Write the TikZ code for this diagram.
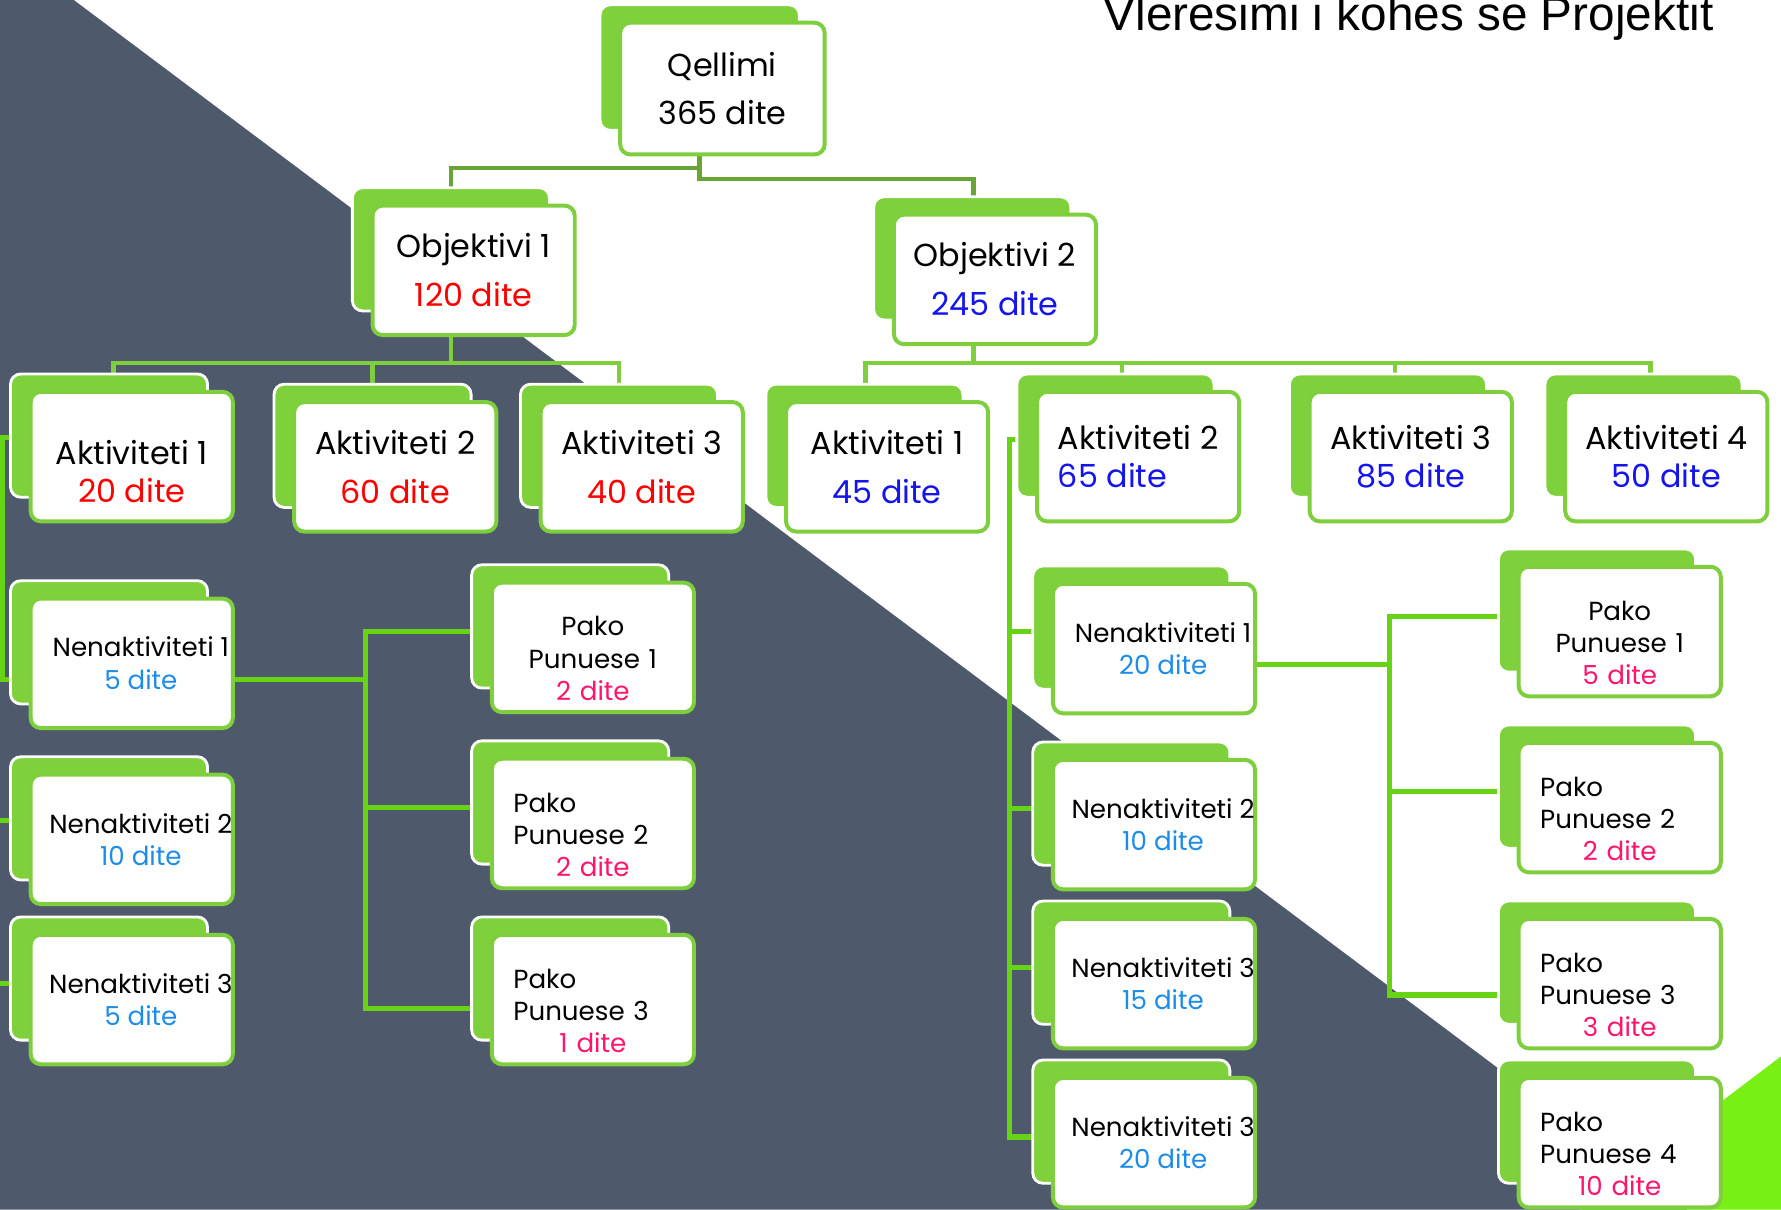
\documentclass[tikz,border=0pt]{standalone}
\usepackage{fontspec}
\setmainfont{Poppins}
\newfontfamily\titlefont{Liberation Sans}
\usepackage{tikz}

\definecolor{slate}{RGB}{78,90,108}
\definecolor{tabgreen}{RGB}{126,209,58}
\definecolor{rimgreen}{RGB}{126,206,62}
\definecolor{stemgreen}{RGB}{104,165,52}
\definecolor{twiggreen}{RGB}{102,212,20}
\definecolor{limegreen}{RGB}{120,240,20}
\definecolor{dayred}{RGB}{255,0,0}
\definecolor{dayblue}{RGB}{20,20,235}
\definecolor{skyblue}{RGB}{30,140,230}
\definecolor{daypink}{RGB}{255,20,110}

\pgfdeclarelayer{backdrop}
\pgfdeclarelayer{links}
\pgfdeclarelayer{tabs}
\pgfsetlayers{backdrop,links,tabs,main}

\newcommand\midtext[1]{\mbox{}\hfill#1\hfill\mbox{}}
\newcommand\padtop[1]{\rule{0pt}{#1}}
\newcommand\nudge{\hspace*{16pt}}

\tikzset{
  card/.style={draw=rimgreen, line width=3.5pt, fill=white, rounded corners=9pt,
    minimum width=178pt, minimum height=114pt, inner sep=0pt, align=center},
  bigcard/.style={card, font=\fontsize{28}{43}\selectfont},
  flatcard/.style={card, font=\fontsize{28}{33}\selectfont},
  smallcard/.style={card, font=\fontsize{23}{28.5}\selectfont},
  tab/.style={fill=tabgreen, draw=white, line width=2.5pt, rounded corners=9pt},
  stem/.style={draw=stemgreen, line width=4pt},
  branch/.style={draw=rimgreen, line width=4pt},
  twig/.style={draw=twiggreen, line width=4.5pt},
}

\begin{document}
\begin{tikzpicture}[x=1pt,y=-1pt]
  \useasboundingbox (0,0) rectangle (1568,1065);
  \begin{pgfonlayer}{backdrop}
    \fill[white] (0,0) rectangle (1568,1065);
    \fill[slate] (0,0) -- (65,0) -- (1485,1065) -- (0,1065) -- cycle;
    \fill[limegreen] (1568,930) -- (1390,1065) -- (1568,1065) -- cycle;
  \end{pgfonlayer}

  \node[anchor=base east, font=\titlefont\fontsize{42}{42}\selectfont] (title) at (1512,27) {Vleresimi i kohes se Projektit};

  \node[bigcard, minimum width=180pt, minimum height=116pt] (qellimi) at (636,78) {Qellimi\\365 dite};
  \node[bigcard] (obj1) at (417,238) {Objektivi 1\\\textcolor{dayred}{120 dite}};
  \node[bigcard] (obj2) at (876,246) {Objektivi 2\\\textcolor{dayblue}{245 dite}};

  \node[flatcard] (lakt1) at (116,402) {\padtop{48pt}Aktiviteti 1\\\textcolor{dayred}{20 dite}};
  \node[bigcard] (lakt2) at (348,411) {Aktiviteti 2\\\textcolor{dayred}{60 dite}};
  \node[bigcard] (lakt3) at (565,411) {Aktiviteti 3\\\textcolor{dayred}{40 dite}};
  \node[bigcard] (rakt1) at (781,411) {Aktiviteti 1\\\textcolor{dayblue}{45 dite}};
  \node[flatcard, align=left] (rakt2) at (1002,402) {Aktiviteti 2\\\textcolor{dayblue}{65 dite}};
  \node[flatcard] (rakt3) at (1242,402) {Aktiviteti 3\\\textcolor{dayblue}{85 dite}};
  \node[flatcard] (rakt4) at (1467,402) {Aktiviteti 4\\\textcolor{dayblue}{50 dite}};

  \node[smallcard] (lnen1) at (116,584) {\nudge Nenaktiviteti 1\\\nudge\textcolor{skyblue}{5 dite}};
  \node[smallcard] (lnen2) at (116,739) {\nudge Nenaktiviteti 2\\\nudge\textcolor{skyblue}{10 dite}};
  \node[smallcard] (lnen3) at (116,880) {\nudge Nenaktiviteti 3\\\nudge\textcolor{skyblue}{5 dite}};

  \node[smallcard, text width=140pt] (lpako1) at (522,570) {\padtop{37pt}Pako\\Punuese 1\\\textcolor{daypink}{2 dite}};
  \node[smallcard, text width=140pt, align=left] (lpako2) at (522,725) {\padtop{37pt}Pako\\Punuese 2\\\midtext{\textcolor{daypink}{2 dite}}};
  \node[smallcard, text width=140pt, align=left] (lpako3) at (522,880) {\padtop{37pt}Pako\\Punuese 3\\\midtext{\textcolor{daypink}{1 dite}}};

  \node[smallcard] (rnen1) at (1016,571) {\nudge Nenaktiviteti 1\\\nudge\textcolor{skyblue}{20 dite}};
  \node[smallcard] (rnen2) at (1016,726) {\nudge Nenaktiviteti 2\\\nudge\textcolor{skyblue}{10 dite}};
  \node[smallcard] (rnen3) at (1016,866) {\nudge Nenaktiviteti 3\\\nudge\textcolor{skyblue}{15 dite}};
  \node[smallcard] (rnen4) at (1016,1006) {\nudge Nenaktiviteti 3\\\nudge\textcolor{skyblue}{20 dite}};

  \node[smallcard, text width=140pt] (rpako1) at (1426,556) {\padtop{37pt}Pako\\Punuese 1\\\textcolor{daypink}{5 dite}};
  \node[smallcard, text width=140pt, align=left] (rpako2) at (1426,711) {\padtop{37pt}Pako\\Punuese 2\\\midtext{\textcolor{daypink}{2 dite}}};
  \node[smallcard, text width=140pt, align=left] (rpako3) at (1426,866) {\padtop{37pt}Pako\\Punuese 3\\\midtext{\textcolor{daypink}{3 dite}}};
  \node[smallcard, text width=140pt, align=left] (rpako4) at (1426,1006) {\padtop{37pt}Pako\\Punuese 4\\\midtext{\textcolor{daypink}{10 dite}}};

  \begin{pgfonlayer}{tabs}
    \foreach \b in {qellimi,obj1,obj2,lakt1,lakt2,lakt3,rakt1,rakt2,rakt3,rakt4,
        lnen1,lnen2,lnen3,lpako1,lpako2,lpako3,rnen1,rnen2,rnen3,rnen4,
        rpako1,rpako2,rpako3,rpako4}
      \draw[tab] ([shift={(-16,-14)}]\b.north west) rectangle ([shift={(-24,-23)}]\b.south east);
  \end{pgfonlayer}

  \begin{pgfonlayer}{links}
    \draw[stem] ([xshift=-20pt]qellimi.south) -- ++(0,10) -| ([xshift=-20pt]obj1.north);
    \draw[stem] ([xshift=-20pt]qellimi.south) -- ++(0,20) -| ([xshift=-19pt]obj2.north);

    \foreach \k/\dx in {lakt1/-16,lakt2/-20,lakt3/-20}
      \draw[branch] ([xshift=-20pt]obj1.south) -- ++(0,23) -| ([xshift=\dx pt]\k.north);
    \foreach \k/\dx in {rakt1/-19,rakt2/-14,rakt3/-14,rakt4/-14}
      \draw[branch] ([xshift=-19pt]obj2.south) -- ++(0,15) -| ([xshift=\dx pt]\k.north);

    \coordinate (lspine) at (2,385);
    \draw[twig] ([yshift=17pt]lakt1.west) -- (lspine) |- ([yshift=-14pt]lnen1.west);
    \draw[twig] ([yshift=17pt]lnen2.west) -- ++(-30,0);
    \draw[twig] ([yshift=14pt]lnen3.west) -- ++(-30,0);

    \coordinate (lfork) at (322,598);
    \draw[twig] ([yshift=-14pt]lnen1.east) -- (lfork);
    \draw[twig] (lfork) |- ([yshift=14pt]lpako1.west);
    \draw[twig] (lfork) |- ([yshift=14pt]lpako2.west);
    \draw[twig] (lfork) |- ([yshift=-8pt]lpako3.west);

    \coordinate (rspine) at (889,387);
    \draw[twig] ([yshift=15pt]rakt2.west) -- (rspine) |- ([yshift=5pt]rnen4.west);
    \draw[twig] (rspine) |- ([yshift=15pt]rnen1.west);
    \draw[twig] (rspine) |- ([yshift=14pt]rnen2.west);
    \draw[twig] (rspine) |- ([yshift=14pt]rnen3.west);

    \coordinate (rfork) at (1223,585);
    \draw[twig] ([yshift=-14pt]rnen1.east) -- (rfork);
    \draw[twig] (rfork) |- ([yshift=13pt]rpako1.west);
    \draw[twig] (rfork) |- ([yshift=14pt]rpako2.west);
    \draw[twig] (rfork) |- ([yshift=-10pt]rpako3.west);
  \end{pgfonlayer}
\end{tikzpicture}
\end{document}
